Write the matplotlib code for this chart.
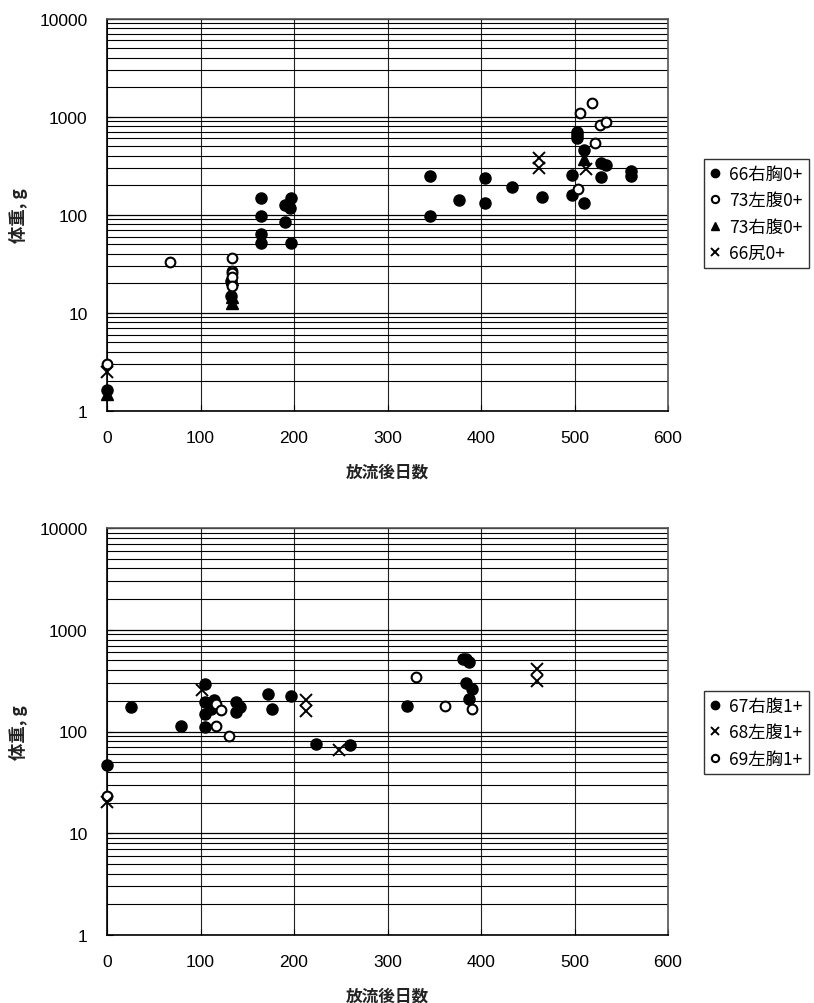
import matplotlib
matplotlib.use("Agg")
import matplotlib.pyplot as plt
from matplotlib.ticker import LogLocator, FixedLocator, NullFormatter, FixedFormatter

plt.rcParams['font.family'] = ['Liberation Sans', 'Noto Sans CJK JP', 'DejaVu Sans']

# ---------------- Top panel data (0+ fish) ----------------
top_labels = ['66右胸0+', '73左腹0+', '73右腹0+', '66尻0+']

t66R_day = [0, 133, 133, 165, 165, 165, 165, 190, 190, 196, 197, 197,
            345, 345, 377, 404, 404, 433, 465, 497, 497, 503, 503, 503,
            510, 510, 528, 528, 534, 560, 560]
t66R_wt = [1.65, 21, 15, 148, 98, 64, 52, 126, 85, 117, 148, 52,
           248, 97, 142, 238, 131, 190, 153, 257, 160, 700, 650, 605,
           452, 132, 338, 242, 318, 276, 250]

t73L_day = [0, 67, 134, 134, 134, 134, 134, 504, 506, 519, 522, 527, 534]
t73L_wt = [3.0, 33, 36, 27, 25.5, 23, 19, 181, 1094, 1381, 541, 824, 879]

t73R_day = [0, 134, 134, 134, 510]
t73R_wt = [1.5, 22, 14.5, 12.5, 372]

t66T_day = [0, 462, 462, 512]
t66T_wt = [2.5, 378, 300, 294]

# ---------------- Bottom panel data (1+ fish) ----------------
bot_labels = ['67右腹1+', '68左腹1+', '69左胸1+']

b67R_day = [0, 26, 79, 105, 105, 105, 105, 111, 114, 138, 138, 142, 172, 176,
            197, 224, 260, 321, 381, 384, 384, 387, 387, 390]
b67R_wt = [47, 173, 113, 294, 194, 149, 110, 167, 202, 197, 155, 174, 234, 168,
           224, 76, 73, 180, 511, 519, 300, 481, 210, 260]

b68L_day = [0, 102, 213, 213, 248, 460, 460]
b68L_wt = [20.2, 253, 203, 160, 66.5, 407, 315]

b69L_day = [0, 117, 117, 122, 131, 331, 361, 390]
b69L_wt = [23.3, 187, 113, 161, 91, 342, 180, 167]

x_ticks = [0, 100, 200, 300, 400, 500, 600]
y_ticks = [1, 10, 100, 1000, 10000]
y_ticklabels = ['1', '10', '100', '1000', '10000']
xlabel = '放流後日数'
ylabel = '体重, g'

fig = plt.figure(figsize=(8.14, 10.04), dpi=100)
ax1 = fig.add_axes([107/814, 1 - 412/1004, 561/814, 392.5/1004])
ax2 = fig.add_axes([107/814, 1 - 936/1004, 561/814, 407/1004])

cjk = ['Noto Sans CJK JP', 'Liberation Sans', 'DejaVu Sans']


def style_axes(ax):
    ax.set_yscale('log')
    ax.set_xlim(0, 600)
    ax.set_ylim(1, 10000)
    ax.xaxis.set_major_locator(FixedLocator(x_ticks))
    ax.set_xticklabels([str(v) for v in x_ticks])
    ax.yaxis.set_major_locator(FixedLocator(y_ticks))
    ax.yaxis.set_major_formatter(FixedFormatter(y_ticklabels))
    ax.yaxis.set_minor_locator(LogLocator(base=10, subs=range(2, 10)))
    ax.yaxis.set_minor_formatter(NullFormatter())
    ax.grid(True, which='major', axis='y', color='black', linewidth=0.9)
    ax.grid(True, which='minor', axis='y', color='black', linewidth=0.8)
    ax.grid(True, which='major', axis='x', color='#222222', linewidth=0.8)
    ax.set_axisbelow(True)
    ax.tick_params(axis='both', which='major', labelsize=12.5, direction='in', length=4)
    ax.tick_params(axis='y', which='major', pad=14)
    ax.tick_params(axis='x', which='major', pad=14)
    ax.tick_params(axis='y', which='minor', direction='in', length=3)
    for sp in ax.spines.values():
        sp.set_linewidth(1.2)
        sp.set_color('black')
    ax.spines['right'].set_color('#555555')
    ax.spines['top'].set_color('#555555')
    ax.set_xlabel(xlabel, family=cjk, fontsize=12, fontweight='bold', color='#222222', labelpad=12)
    ax.set_ylabel(ylabel, family=cjk, fontsize=12.5, fontweight='bold', color='#222222', labelpad=18)


style_axes(ax1)
style_axes(ax2)
ax1.yaxis.set_label_coords(-0.14, 0.5)
ax2.yaxis.set_label_coords(-0.14, 0.5)

ms_fill = 8
ms_open = 7
ax1.plot(t66R_day, t66R_wt, 'o', color='black', ms=ms_fill, label=top_labels[0], clip_on=False, zorder=3)
ax1.plot(t73L_day, t73L_wt, 'o', mfc='white', mec='black', mew=1.5, ms=ms_open, label=top_labels[1], clip_on=False, zorder=4)
ax1.plot(t73R_day, t73R_wt, '^', color='black', ms=ms_fill, label=top_labels[2], clip_on=False, zorder=3)
ax1.plot(t66T_day, t66T_wt, 'x', color='black', mew=1.4, ms=ms_fill, label=top_labels[3], clip_on=False, zorder=5)

ax2.plot(b67R_day, b67R_wt, 'o', color='black', ms=ms_fill, label=bot_labels[0], clip_on=False, zorder=3)
ax2.plot(b68L_day, b68L_wt, 'x', color='black', mew=1.4, ms=ms_fill, label=bot_labels[1], clip_on=False, zorder=5)
ax2.plot(b69L_day, b69L_wt, 'o', mfc='white', mec='black', mew=1.5, ms=ms_open, label=bot_labels[2], clip_on=False, zorder=4)

leg_kw = dict(prop={'family': cjk, 'size': 12.5}, frameon=True, fancybox=False,
              edgecolor='black', borderpad=0.35, handlelength=0.6, handletextpad=0.5,
              labelspacing=0.48, markerscale=0.75, borderaxespad=0)
l1 = ax1.legend(loc='upper left', bbox_to_anchor=(704/814, 1 - 160/1004),
                bbox_transform=fig.transFigure, **leg_kw)
l2 = ax2.legend(loc='upper left', bbox_to_anchor=(704/814, 1 - 692/1004),
                bbox_transform=fig.transFigure, **leg_kw)
for l in (l1, l2):
    l.get_frame().set_linewidth(1.0)

fig.savefig('out.png', dpi=100)
